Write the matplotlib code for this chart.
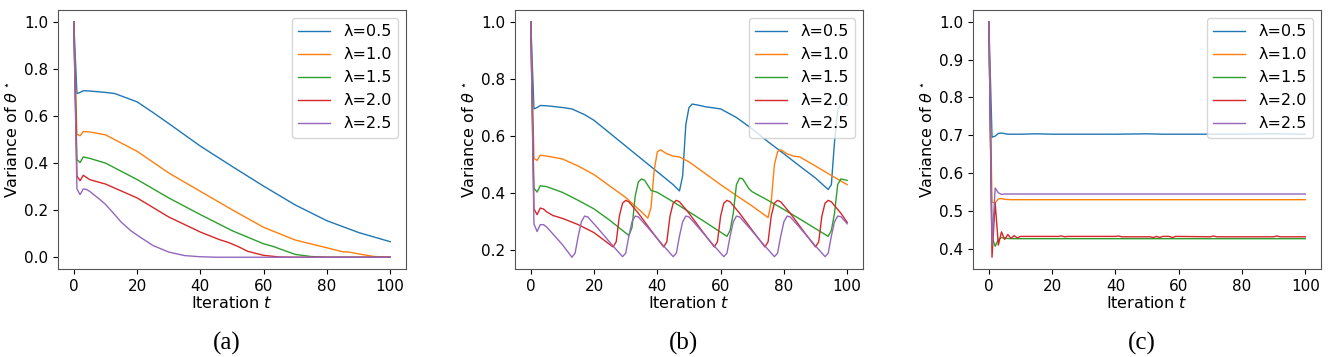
import numpy as np
import matplotlib
matplotlib.use("Agg")
import matplotlib.pyplot as plt

# ---------------- data ----------------
lambdas = ["λ=0.5", "λ=1.0", "λ=1.5", "λ=2.0", "λ=2.5"]
colors = ["#1f77b4", "#ff7f0e", "#2ca02c", "#d62728", "#9467bd"]

# panel (a): monotone decay
a_t05 = [0, 1, 2, 3, 5, 10, 13, 16, 20, 25, 30, 40, 50, 60, 70, 80, 90, 100]
a_v05 = [1.0, 0.695, 0.70, 0.707, 0.706, 0.70, 0.695, 0.68, 0.66, 0.615, 0.568,
         0.472, 0.386, 0.302, 0.222, 0.155, 0.105, 0.066]
a_t10 = [0, 1, 2, 3, 5, 10, 20, 30, 40, 50, 60, 70, 80, 85, 87, 90, 95, 100]
a_v10 = [1.0, 0.522, 0.516, 0.534, 0.532, 0.52, 0.45, 0.358, 0.28, 0.202, 0.127,
         0.073, 0.04, 0.023, 0.022, 0.014, 0.003, 0.0]
a_t15 = [0, 1, 2, 3, 5, 10, 20, 30, 40, 50, 60, 63, 65, 70, 75, 80, 100]
a_v15 = [1.0, 0.415, 0.402, 0.426, 0.42, 0.40, 0.33, 0.252, 0.181, 0.113, 0.057,
         0.046, 0.036, 0.012, 0.003, 0.0, 0.0]
a_t20 = [0, 1, 2, 3, 5, 7, 10, 20, 30, 40, 46, 49, 52, 55, 60, 65, 70, 100]
a_v20 = [1.0, 0.345, 0.325, 0.348, 0.33, 0.322, 0.311, 0.252, 0.171, 0.107, 0.075,
         0.062, 0.045, 0.025, 0.008, 0.001, 0.0, 0.0]
a_t25 = [0, 1, 2, 3, 4, 5, 8, 10, 13, 15, 18, 20, 25, 30, 35, 40, 45, 100]
a_v25 = [1.0, 0.29, 0.266, 0.29, 0.288, 0.28, 0.248, 0.225, 0.18, 0.149, 0.113,
         0.094, 0.05, 0.022, 0.007, 0.002, 0.0, 0.0]

# panel (b): periodic resets
b_t05 = [0, 1, 2, 3, 5, 10, 13, 17, 20, 25, 30, 35, 40, 45, 47, 48, 49, 50, 51,
         53, 55, 60, 65, 70, 75, 80, 85, 90, 94, 95, 96, 97, 98, 100]
b_v05 = [1.0, 0.695, 0.70, 0.707, 0.706, 0.70, 0.695, 0.675, 0.655, 0.61, 0.565,
         0.52, 0.475, 0.43, 0.408, 0.46, 0.64, 0.70, 0.712, 0.708, 0.703, 0.695,
         0.665, 0.625, 0.58, 0.538, 0.495, 0.453, 0.413, 0.43, 0.58, 0.69, 0.712,
         0.708]
b_t10 = [0, 1, 2, 3, 5, 10, 15, 20, 25, 30, 35, 37, 38, 39, 40, 41, 43, 45, 47,
         50, 55, 60, 65, 70, 75, 76, 77, 78, 79, 81, 83, 85, 90, 95, 100]
b_v10 = [1.0, 0.522, 0.515, 0.533, 0.53, 0.52, 0.495, 0.465, 0.425, 0.385, 0.335,
         0.313, 0.35, 0.48, 0.545, 0.552, 0.538, 0.53, 0.527, 0.51, 0.47, 0.43,
         0.392, 0.355, 0.315, 0.37, 0.50, 0.545, 0.552, 0.538, 0.53, 0.527, 0.495,
         0.462, 0.43]
b_t15 = [0, 1, 2, 3, 5, 10, 15, 20, 25, 31, 32, 33, 34, 35, 36, 38, 40, 45, 50,
         55, 62, 63, 64, 65, 66, 67, 69, 70, 75, 80, 85, 90, 94, 95, 96, 97, 98,
         100]
b_v15 = [1.0, 0.418, 0.404, 0.426, 0.423, 0.403, 0.375, 0.345, 0.305, 0.252, 0.28,
         0.39, 0.44, 0.45, 0.445, 0.41, 0.403, 0.37, 0.335, 0.30, 0.249, 0.27,
         0.33, 0.43, 0.453, 0.45, 0.415, 0.405, 0.375, 0.343, 0.31, 0.276, 0.249,
         0.27, 0.33, 0.43, 0.45, 0.445]
b_t20 = [0, 1, 2, 3, 4, 5, 7, 10, 15, 20, 26, 27, 28, 29, 30, 31, 34, 38, 42, 43,
         44, 45, 46, 47, 50, 54, 58, 59, 60, 61, 62, 63, 66, 70, 74, 75, 76, 77,
         78, 79, 82, 86, 90, 91, 92, 93, 94, 95, 98, 100]
b_v20 = [1.0, 0.345, 0.325, 0.348, 0.345, 0.335, 0.322, 0.312, 0.29, 0.262, 0.212,
         0.23, 0.32, 0.365, 0.375, 0.37, 0.33, 0.27, 0.212, 0.23, 0.32, 0.365,
         0.375, 0.37, 0.33, 0.27, 0.212, 0.23, 0.32, 0.365, 0.375, 0.37, 0.33,
         0.27, 0.212, 0.23, 0.32, 0.365, 0.375, 0.37, 0.33, 0.27, 0.212, 0.23,
         0.32, 0.365, 0.375, 0.37, 0.33, 0.298]
b_t25 = [0, 1, 2, 3, 4, 5, 8, 10, 13, 14, 15, 16, 17, 18, 21, 25, 29, 30, 31, 32,
         33, 34, 37, 41, 45, 46, 47, 48, 49, 50, 53, 57, 61, 62, 63, 64, 65, 66,
         69, 73, 77, 78, 79, 80, 81, 82, 85, 89, 93, 94, 95, 96, 97, 98, 100]
b_v25 = [1.0, 0.293, 0.266, 0.29, 0.29, 0.282, 0.245, 0.22, 0.176, 0.19, 0.25,
         0.30, 0.32, 0.317, 0.28, 0.228, 0.178, 0.19, 0.25, 0.30, 0.32, 0.317,
         0.28, 0.228, 0.178, 0.19, 0.25, 0.30, 0.32, 0.317, 0.28, 0.228, 0.178,
         0.19, 0.25, 0.30, 0.32, 0.317, 0.28, 0.228, 0.178, 0.19, 0.25, 0.30,
         0.32, 0.317, 0.28, 0.228, 0.178, 0.19, 0.25, 0.30, 0.32, 0.318, 0.293]

# panel (c): quick convergence to a plateau
c_t05 = [0, 1, 2, 3, 4, 6, 10, 15, 20, 30, 40, 50, 55, 60, 70, 80, 90, 100]
c_v05 = [1.0, 0.695, 0.698, 0.705, 0.706, 0.703, 0.703, 0.704, 0.703, 0.703,
         0.703, 0.704, 0.703, 0.703, 0.703, 0.703, 0.704, 0.703]
c_t10 = [0, 1, 2, 3, 4, 5, 7, 10, 100]
c_v10 = [1.0, 0.523, 0.522, 0.532, 0.533, 0.531, 0.530, 0.530, 0.530]
c_t15 = [0, 1, 2, 3, 4, 5, 7, 100]
c_v15 = [1.0, 0.43, 0.407, 0.425, 0.43, 0.428, 0.427, 0.427]
c_t20 = [0, 1, 2, 3, 4, 5, 6, 7, 8, 9, 10, 22, 23, 24, 25, 40, 41, 42, 51, 52,
         53, 54, 55, 57, 58, 59, 70, 71, 72, 90, 91, 92, 100]
c_v20 = [1.0, 0.378, 0.522, 0.41, 0.445, 0.425, 0.438, 0.428, 0.435, 0.429, 0.433,
         0.433, 0.434, 0.432, 0.433, 0.433, 0.434, 0.432, 0.432, 0.430, 0.433,
         0.430, 0.433, 0.433, 0.430, 0.433, 0.432, 0.434, 0.432, 0.432, 0.434,
         0.432, 0.432]
c_t25 = [0, 1, 2, 3, 4, 5, 100]
c_v25 = [1.0, 0.41, 0.561, 0.548, 0.544, 0.545, 0.545]

panels = [
    ([a_t05, a_t10, a_t15, a_t20, a_t25], [a_v05, a_v10, a_v15, a_v20, a_v25], "(a)"),
    ([b_t05, b_t10, b_t15, b_t20, b_t25], [b_v05, b_v10, b_v15, b_v20, b_v25], "(b)"),
    ([c_t05, c_t10, c_t15, c_t20, c_t25], [c_v05, c_v10, c_v15, c_v20, c_v25], "(c)"),
]

# ---------------- figure ----------------
plt.rcParams.update({"font.size": 11, "axes.edgecolor": "#555555"})
fig = plt.figure(figsize=(13.32, 3.57), dpi=100)

lefts = [0.0435, 0.3866, 0.7305]
for left, (ts, vs, cap) in zip(lefts, panels):
    ax = fig.add_axes([left, 0.2465, 0.2613, 0.7255])
    for t, v, lab, c in zip(ts, vs, lambdas, colors):
        ax.plot(t, v, color=c, lw=1.0, label=lab)
    ax.set_xticks([0, 20, 40, 60, 80, 100])
    ax.set_xlabel(r"Iteration $t$", labelpad=1, fontsize=11.5)
    ax.set_ylabel(r"Variance of $\theta^\star$", fontsize=11.5, labelpad=2)
    ax.legend(loc="upper right", fontsize=11.5)
    fig.text(left + 0.2613 / 2 - 0.004, 0.039, cap, ha="center", va="center",
             fontsize=18, family="Liberation Serif")

fig.savefig("out.png", dpi=100)
